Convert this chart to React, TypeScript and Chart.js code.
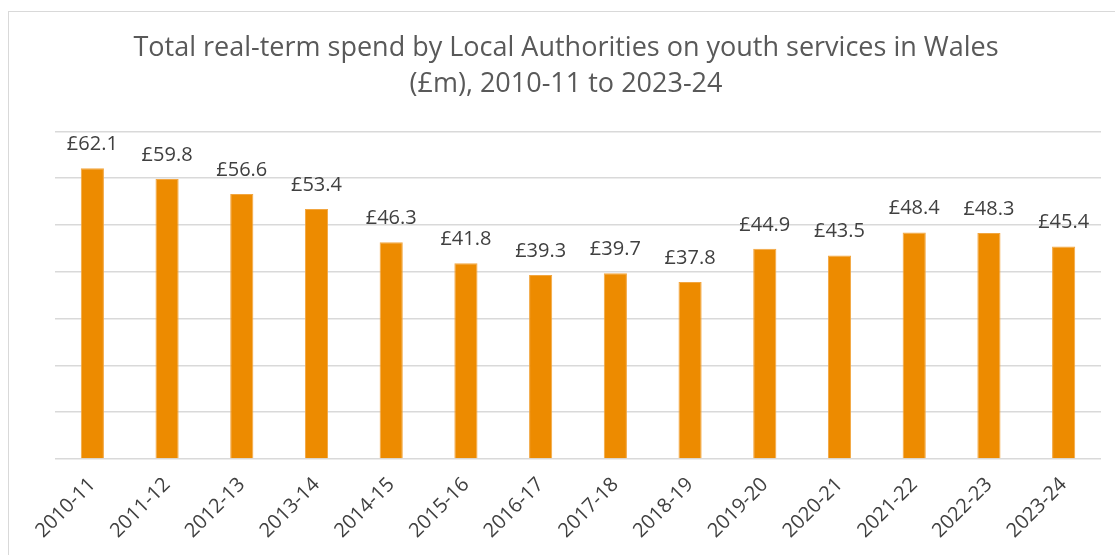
import React, { useEffect, useRef } from "react";
import { Chart, registerables } from "chart.js";

Chart.register(...registerables);

const categories = [
  "2010-11", "2011-12", "2012-13", "2013-14", "2014-15", "2015-16", "2016-17",
  "2017-18", "2018-19", "2019-20", "2020-21", "2021-22", "2022-23", "2023-24",
];
const spend = [62.1, 59.8, 56.6, 53.4, 46.3, 41.8, 39.3, 39.7, 37.8, 44.9, 43.5, 48.4, 48.3, 45.4];
const titleLines = [
  "Total real-term spend by Local Authorities on youth services in Wales",
  "(£m), 2010-11 to 2023-24",
];

const FONT = "'Open Sans', sans-serif";

const valueLabels = {
  id: "valueLabels",
  afterDatasetsDraw(chart: any) {
    const ctx = chart.ctx;
    const meta = chart.getDatasetMeta(0);
    ctx.save();
    ctx.fillStyle = "#404040";
    ctx.font = `20px ${FONT}`;
    ctx.textAlign = "center";
    ctx.textBaseline = "alphabetic";
    meta.data.forEach((bar: any, i: number) => {
      ctx.fillText("£" + spend[i].toFixed(1), bar.x, bar.y - 18);
    });
    ctx.restore();
  },
};

export default function App() {
  const ref = useRef<HTMLCanvasElement>(null);
  useEffect(() => {
    const chart = new Chart(ref.current!, {
      type: "bar",
      data: {
        labels: categories,
        datasets: [
          {
            data: spend,
            backgroundColor: "#ED8B00",
            borderColor: "#F2A640",
            borderWidth: 1,
            categoryPercentage: 1,
            barPercentage: 0.31,
          },
        ],
      },
      options: {
        responsive: false,
        animation: false,
        layout: { padding: { left: 31, right: 14, top: 12, bottom: 6 } },
        plugins: {
          legend: { display: false },
          tooltip: { enabled: false },
          title: {
            display: true,
            text: titleLines,
            color: "#595959",
            font: { family: FONT, size: 27, weight: "normal", lineHeight: 1.34 },
            padding: { top: 18, bottom: 29 },
          },
        },
        scales: {
          x: {
            grid: { display: false },
            border: { display: false },
            ticks: {
              color: "#404040",
              font: { family: FONT, size: 20 },
              minRotation: 45,
              maxRotation: 45,
              autoSkip: false,
              padding: 6,
            },
          },
          y: {
            min: 0,
            max: 70,
            afterFit: (axis: any) => {
              axis.width = 24;
            },
            ticks: { display: false, stepSize: 10 },
            grid: { color: "#d9d9d9", lineWidth: 1.5, drawTicks: false },
            border: { display: false },
          },
        },
      },
      plugins: [valueLabels],
    });
    return () => chart.destroy();
  }, []);
  return (
    <div style={{ position: "fixed", left: 0, top: 0, width: 1115, height: 555, background: "#fff" }}>
      <div
        style={{
          position: "absolute",
          left: 8,
          top: 11,
          width: 1110,
          height: 560,
          border: "1px solid #d9d9d9",
          boxSizing: "border-box",
        }}
      />
      <canvas ref={ref} width={1115} height={555} style={{ position: "absolute", left: 0, top: 0 }} />
    </div>
  );
}
